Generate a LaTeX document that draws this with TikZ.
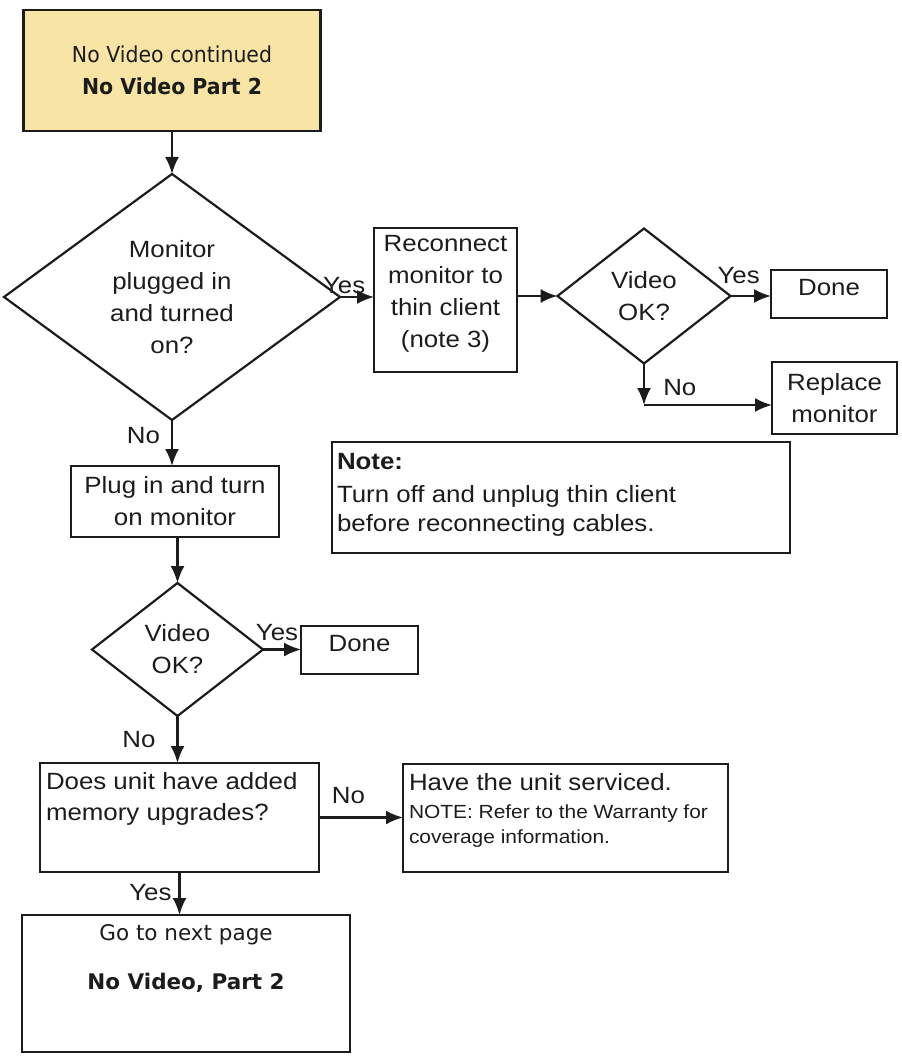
\documentclass[tikz,border=0pt]{standalone}
\usepackage{fontspec}
\setmainfont{Liberation Sans}[FakeStretch=1.1]
\newfontfamily\topfont{DejaVu Sans}[FakeStretch=0.93]
\newfontfamily\pagefont{DejaVu Sans}
\usetikzlibrary{shapes.geometric,arrows.meta}
\definecolor{boxyellow}{RGB}{248,229,166}
\definecolor{ink}{RGB}{28,28,28}

\begin{document}
\begin{tikzpicture}[x=1pt,y=-1pt,>={Latex[length=17pt,width=14pt]},
    every node/.style={font=\fontsize{23.5}{32}\selectfont,text=ink,inner sep=0pt,outer sep=0pt},
    box/.style={draw=ink,line width=2.2pt,rectangle,align=center},
    decision/.style={draw=ink,line width=2.2pt,diamond,align=center},
    flow/.style={draw=ink,line width=2.2pt,->}]
    \useasboundingbox (0,0) rectangle (901,1056);
    % main column
    \node[box,fill=boxyellow,minimum width=297pt,minimum height=121pt,font=\topfont\fontsize{22}{32}\selectfont] (start) at (172,70.5) {No Video continued\\\textbf{No Video Part 2}};
    \node[decision,minimum width=336pt,minimum height=246pt] (plugged) at (172,297) {Monitor\\plugged in\\and turned\\on?};
    \node[box,minimum width=208pt,minimum height=71pt] (plugin) at (175,501.5) {Plug in and turn\\on monitor};
    \node[decision,minimum width=171pt,minimum height=133pt] (videoB) at (177.5,649.5) {Video\\OK?};
    \node[box,minimum width=117pt,minimum height=48pt,text depth=14pt] (doneB) at (359.5,650) {Done};
    \node[box,minimum width=279pt,minimum height=109pt] (memory) at (179.5,817.5) {};
    \node[anchor=north west,align=left,font=\fontsize{23.5}{31}\selectfont] (memorytext) at ([xshift=6pt,yshift=-9.5pt]memory.north west) {Does unit have added\\memory upgrades?};
    \node[box,minimum width=325pt,minimum height=108pt] (service) at (565.5,818) {};
    \node[anchor=north west,align=left,font=\fontsize{19}{25}\selectfont] (servicetext) at ([xshift=6pt,yshift=-9.5pt]service.north west) {{\fontsize{23.5}{28}\selectfont Have the unit serviced.}\\[3pt]NOTE: Refer to the Warranty for\\coverage information.};
    \node[box,minimum width=328pt,minimum height=137pt] (nextpage) at (186,983.5) {};
    \node[anchor=north,align=center,font=\pagefont\fontsize{21.5}{49}\selectfont] (nextpagetext) at ([yshift=-10pt]nextpage.north) {Go to next page\\\textbf{No Video, Part 2}};
    % right branch
    \node[box,minimum width=143pt,minimum height=144pt,text depth=18pt] (reconnect) at (445.5,300) {Reconnect\\monitor to\\thin client\\(note 3)};
    \node[decision,minimum width=173pt,minimum height=135pt] (videoA) at (644,296) {Video\\OK?};
    \node[box,minimum width=116pt,minimum height=48pt,text depth=14pt] (doneA) at (829,294) {Done};
    \node[box,minimum width=125pt,minimum height=72pt] (replace) at (834.5,398) {Replace\\monitor};
    \node[box,minimum width=458pt,minimum height=111pt] (note) at (561,497.5) {};
    \node[anchor=north west,align=left,font=\fontsize{23.5}{29}\selectfont] (notetext) at ([xshift=5pt,yshift=-11pt]note.north west) {\textbf{Note:}\\[4pt]Turn off and unplug thin client\\before reconnecting cables.};
    \coordinate (turnA) at (644,405);
    % connectors
    \draw[flow] (start.south) -- (plugged.north);
    \draw[flow] (plugged.east) -- (plugged.east -| reconnect.west) node[pos=0.12,above=3pt] {Yes};
    \draw[flow] (reconnect.east |- videoA.west) -- (videoA.west);
    \draw[flow] (videoA.east) -- (videoA.east -| doneA.west) node[pos=0.2,above=12pt] {Yes};
    \draw[flow] (videoA.south) -- (turnA);
    \draw[flow] (turnA) -- (turnA -| replace.west) node[pos=0.28,above=9pt] {No};
    \draw[flow] (plugged.south) -- (plugged.south |- plugin.north) node[pos=0.33,left=12pt] {No};
    \draw[flow] (videoB.north |- plugin.south) -- (videoB.north);
    \draw[flow] (videoB.east) -- (videoB.east -| doneB.west) node[pos=0.37,above=9pt] {Yes};
    \draw[flow] (videoB.south) -- (videoB.south |- memory.north) node[pos=0.51,left=22pt] {No};
    \draw[flow] (memory.east) -- (memory.east -| service.west) node[pos=0.35,above=14pt] {No};
    \draw[flow] (memory.south) -- (memory.south |- nextpage.north) node[pos=0.47,left=8pt] {Yes};
\end{tikzpicture}
\end{document}
